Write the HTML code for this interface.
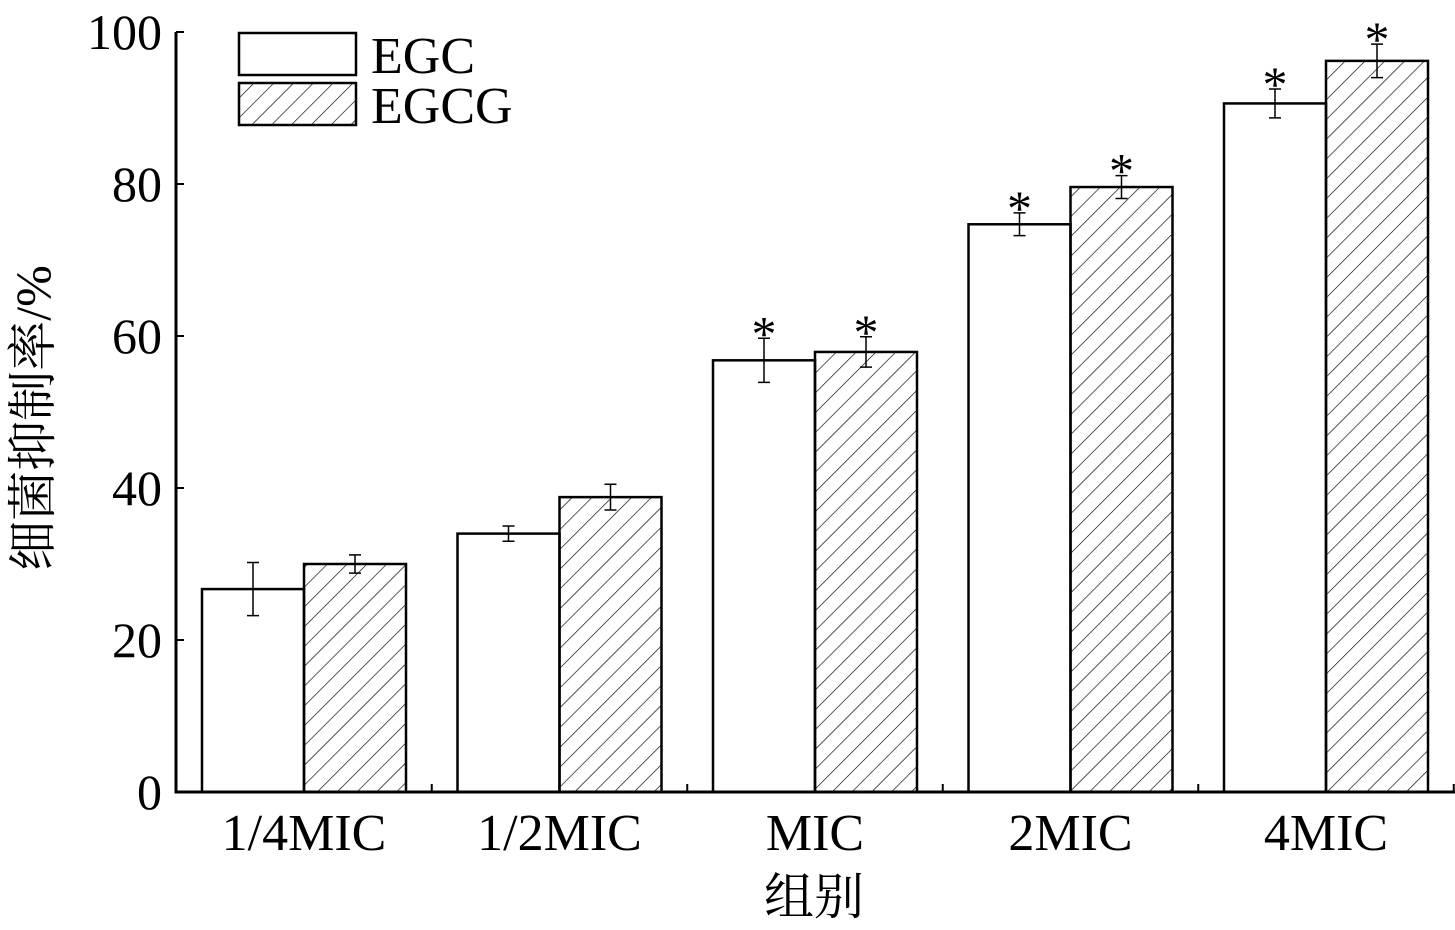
<!DOCTYPE html>
<html><head><meta charset="utf-8"><style>
body{margin:0;background:#fff}
svg text{font-family:"Liberation Serif","Noto Serif CJK SC",serif;fill:#000}
</style></head><body>
<svg id="c" width="1455" height="925" viewBox="0 0 1455 925" xmlns="http://www.w3.org/2000/svg">
<defs><pattern id="hatch" patternUnits="userSpaceOnUse" width="14" height="14" patternTransform="rotate(45)"><line x1="0" y1="0" x2="0" y2="14" stroke="#000" stroke-width="1.3"/></pattern></defs>
<g id="plot"></g>
</svg>
<script>
const categories=["1/4MIC","1/2MIC","MIC","2MIC","4MIC"];
const egc=[26.7,34.0,56.8,74.7,90.6];
const egcErr=[3.5,1.0,2.9,1.5,1.9];
const egcg=[30.0,38.8,57.9,79.6,96.2];
const egcgErr=[1.2,1.7,2.0,1.5,2.2];
const egcSig=[false,false,true,true,true];
const egcgSig=[false,false,true,true,true];
const yTicks=[0,20,40,60,80,100];
const NS="http://www.w3.org/2000/svg";
const g=document.getElementById('plot');
const X0=176,X1=1455,Y0=792,Y1=32;
const y=v=>Y0-(v/100)*(Y0-Y1);
const gw=255.5,gc=i=>304+i*gw,bw=102;
function mk(t,a,p){const e=document.createElementNS(NS,t);for(const k in a)e.setAttribute(k,a[k]);(p||g).appendChild(e);return e;}
function bars(vals,errs,sig,off,fill,name){
 vals.forEach((v,i)=>{
  const x=gc(i)+off;
  const r=mk('rect',{x:x,y:y(v),width:bw,height:Y0-y(v),fill:fill,stroke:'#000','stroke-width':2.5});
  
  
  const cx=x+bw/2,t=y(v+errs[i]),b=y(v-errs[i]);
  const e=mk('path',{d:`M${cx} ${t}V${b}M${cx-6} ${t}H${cx+6}M${cx-6} ${b}H${cx+6}`,stroke:'#000','stroke-width':1.5,fill:'none'});
  
  
  if(sig[i]){const s=mk('text',{x:cx,y:t+12,'text-anchor':'middle','font-size':50});s.textContent='*';
   
   }
 });
}
bars(egc,egcErr,egcSig,-bw,'#fff','egc');
bars(egcg,egcgErr,egcgSig,0,'url(#hatch)','egcg');
const ax=mk('path',{d:`M${X0} ${Y1}V${Y0}H${X1}`,stroke:'#000','stroke-width':3,fill:'none'});


yTicks.forEach(t=>{
 mk('line',{x1:X0,x2:X0+8,y1:y(t),y2:y(t),stroke:'#000','stroke-width':2});
 const l=mk('text',{x:X0-14,y:y(t)+17,'text-anchor':'end','font-size':50});l.textContent=t;
 
 
});
categories.forEach((c,i)=>{
 mk('line',{x1:gc(i)+gw/2,x2:gc(i)+gw/2,y1:Y0,y2:Y0-8,stroke:'#000','stroke-width':2});
 const l=mk('text',{x:gc(i),y:850,'text-anchor':'middle','font-size':52});l.textContent=c;
 
 
});
const xt=mk('text',{x:814,y:914,'text-anchor':'middle','font-size':50});xt.textContent='组别';


const yt=mk('text',{x:50,y:418,'text-anchor':'middle','font-size':50,transform:'rotate(-90 50 418)'});yt.textContent='细菌抑制率/%';


[['EGC','#fff',33],['EGCG','url(#hatch)',83]].forEach(([n,f,yy])=>{
 const r=mk('rect',{x:239,y:yy,width:117,height:42,fill:f,stroke:'#000','stroke-width':2.5});
 
 
 const t=mk('text',{x:371,y:yy+40,'font-size':52});t.textContent=n;
 
 
});
</script>
</body></html>
